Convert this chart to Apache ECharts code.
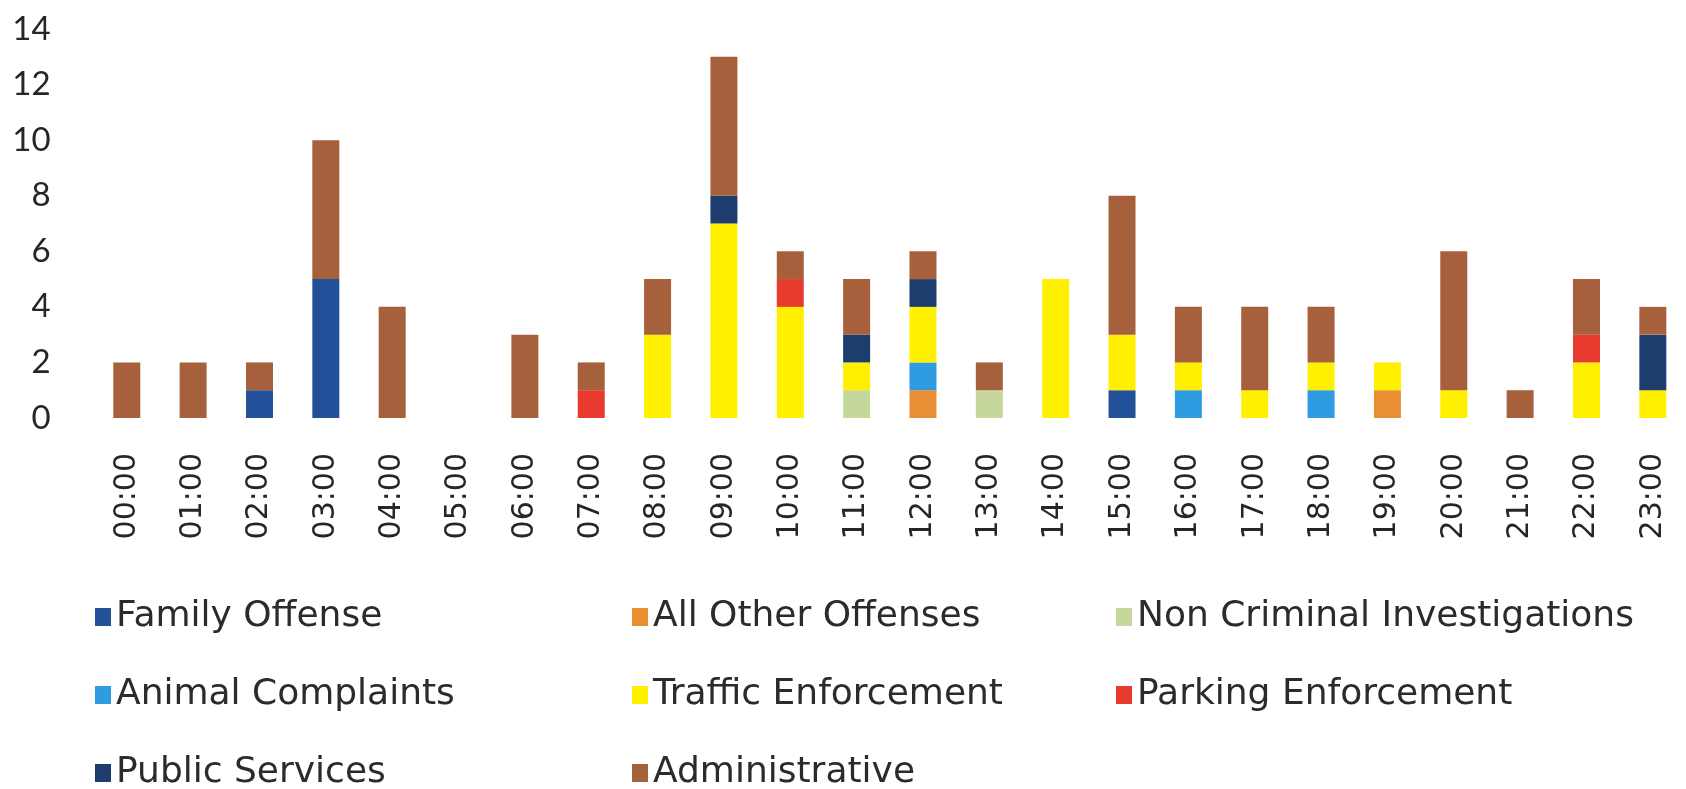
<!DOCTYPE html>
<html>
<head>
<meta charset="utf-8">
<script src="https://cdn.jsdelivr.net/npm/echarts@6/dist/echarts.min.js"></script>
<style>
  html, body { margin: 0; padding: 0; background: #ffffff; }
  #chart { width: 1686px; height: 789px; }
</style>
</head>
<body>
<div id="chart"></div>
<script>
// Hour-of-day categories
const hours = ['00:00','01:00','02:00','03:00','04:00','05:00','06:00','07:00','08:00','09:00','10:00','11:00',
               '12:00','13:00','14:00','15:00','16:00','17:00','18:00','19:00','20:00','21:00','22:00','23:00'];

// Incident counts per hour, one array per category (stacked bottom to top)
const familyOffense      = [0,0,1,5,0,0,0,0,0,0,0,0, 0,0,0,1,0,0,0,0,0,0,0,0];
const allOtherOffenses   = [0,0,0,0,0,0,0,0,0,0,0,0, 1,0,0,0,0,0,0,1,0,0,0,0];
const nonCriminalInv     = [0,0,0,0,0,0,0,0,0,0,0,1, 0,1,0,0,0,0,0,0,0,0,0,0];
const animalComplaints   = [0,0,0,0,0,0,0,0,0,0,0,0, 1,0,0,0,1,0,1,0,0,0,0,0];
const trafficEnforcement = [0,0,0,0,0,0,0,0,3,7,4,1, 2,0,5,2,1,1,1,1,1,0,2,1];
const parkingEnforcement = [0,0,0,0,0,0,0,1,0,0,1,0, 0,0,0,0,0,0,0,0,0,0,1,0];
const publicServices     = [0,0,0,0,0,0,0,0,0,1,0,1, 1,0,0,0,0,0,0,0,0,0,0,2];
const administrative     = [2,2,1,5,4,0,3,1,2,5,1,2, 1,1,0,5,2,3,2,0,5,1,2,1];

// Value-axis tick labels
const yTicks = [0, 2, 4, 6, 8, 10, 12, 14];

const seriesDefs = [
  { name: 'Family Offense',              data: familyOffense,      color: '#22519a' },
  { name: 'All Other Offenses',          data: allOtherOffenses,   color: '#e98f33' },
  { name: 'Non Criminal Investigations', data: nonCriminalInv,     color: '#c6d79c' },
  { name: 'Animal Complaints',           data: animalComplaints,   color: '#2f9be0' },
  { name: 'Traffic Enforcement',         data: trafficEnforcement, color: '#fff000' },
  { name: 'Parking Enforcement',         data: parkingEnforcement, color: '#e83a2f' },
  { name: 'Public Services',             data: publicServices,     color: '#1d3d6e' },
  { name: 'Administrative',              data: administrative,     color: '#a6603c' }
];

// Legend laid out as a 3-column grid
const legendCols = [95, 632, 1116];
const legendRows = [617, 695, 773];
const legendFont = { fontFamily: 'DejaVu Sans', fontSize: 36, color: '#2b2b2b', lineHeight: 40 };

const legends = seriesDefs.map((s, i) => ({
  data: [s.name],
  left: legendCols[i % 3],
  top: legendRows[Math.floor(i / 3)] - 20,
  itemWidth: 16,
  itemHeight: 18,
  icon: 'rect',
  padding: 0,
  selectedMode: false,
  textStyle: legendFont
}));

const chart = echarts.init(document.getElementById('chart'), null, { renderer: 'canvas' });
chart.setOption({
  animation: false,
  backgroundColor: '#ffffff',
  color: seriesDefs.map(s => s.color),
  grid: { left: 93.6, right: -5, top: 29, bottom: 371, containLabel: false },
  legend: legends,
  xAxis: {
    type: 'category',
    data: hours,
    axisLine: { show: false },
    axisTick: { show: false },
    axisLabel: {
      rotate: 90,
      margin: 35,
      fontFamily: 'DejaVu Sans',
      fontSize: 30,
      color: '#262626',
      interval: 0
    }
  },
  yAxis: {
    type: 'value',
    min: yTicks[0],
    max: yTicks[yTicks.length - 1],
    interval: yTicks[1] - yTicks[0],
    axisLine: { show: false },
    axisTick: { show: false },
    splitLine: { show: false },
    axisLabel: {
      margin: 43,
      fontFamily: 'Lato',
      fontSize: 33,
      color: '#262626'
    }
  },
  series: seriesDefs.map(s => ({
    name: s.name,
    type: 'bar',
    stack: 'total',
    barWidth: 27,
    data: s.data,
    itemStyle: { color: s.color }
  }))
});
</script>
</body>
</html>
